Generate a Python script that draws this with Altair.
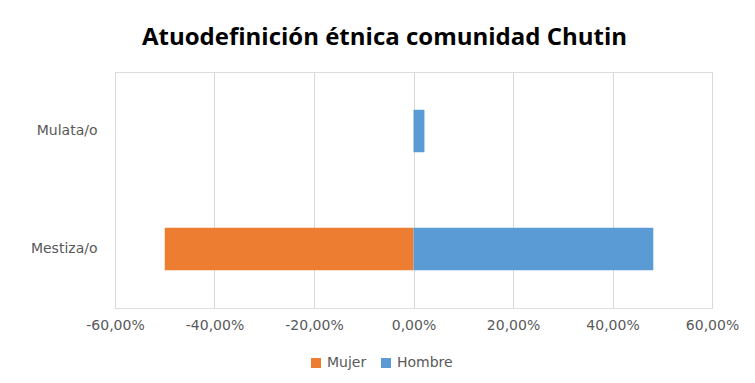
import altair as alt
import pandas as pd

categories = ["Mulata/o", "Mestiza/o"]
mujer = [0.0, -0.50]
hombre = [0.022, 0.482]
series = ["Mujer", "Hombre"]
colors = ["#ED7D31", "#5B9BD5"]

rows = []
for c, m, h in zip(categories, mujer, hombre):
    rows.append({"cat": c, "sexo": "Mujer", "val": m})
    rows.append({"cat": c, "sexo": "Hombre", "val": h})
df = pd.DataFrame(rows)

tfont = "Open Sans"
font = "DejaVu Sans"
label_expr = "(datum.value < 0 ? '-' : '') + replace(format(abs(datum.value), '.2%'), '.', ',')"

chart = alt.Chart(df).mark_bar().encode(
    y=alt.Y("cat:N", sort=categories, title=None,
            scale=alt.Scale(paddingInner=0.64, paddingOuter=0.32),
            axis=alt.Axis(domain=False, ticks=False, grid=False, labelPadding=18, labelFontSize=14,
                          labelColor="#595959", labelFont=font)),
    x=alt.X("val:Q", stack=None, title=None,
            scale=alt.Scale(domain=[-0.6, 0.6], nice=False),
            axis=alt.Axis(values=[-0.6, -0.4, -0.2, 0, 0.2, 0.4, 0.6], labelExpr=label_expr,
                          domain=False, ticks=False, grid=True, gridColor="#D9D9D9",
                          labelFlush=False, labelOverlap=False,
                          labelFontSize=14, labelColor="#595959", labelFont=font, labelPadding=10)),
    color=alt.Color("sexo:N", sort=series,
                    scale=alt.Scale(domain=series, range=colors),
                    legend=alt.Legend(title=None, orient="none", direction="horizontal",
                                      legendX=194, legendY=284, symbolType="square",
                                      symbolSize=100, labelFontSize=14, labelColor="#595959",
                                      labelFont=font, columnPadding=12, labelOffset=4,
                                      symbolStrokeWidth=0)),
).properties(
    width=597, height=236,
    title=alt.Title("Atuodefinición  étnica comunidad  Chutin", fontSize=24, font=tfont,
                    fontWeight="bold", color="#000000", anchor="middle", offset=22, dx=-29),
    autosize="none",
    padding={"left": 107, "top": 64, "right": 35, "bottom": 67},
).configure_view(strokeOpacity=0, strokeWidth=0).configure_axis(domain=False).configure(background="white")

chart.save("out.html", embed_options={"renderer": "svg", "actions": False})
